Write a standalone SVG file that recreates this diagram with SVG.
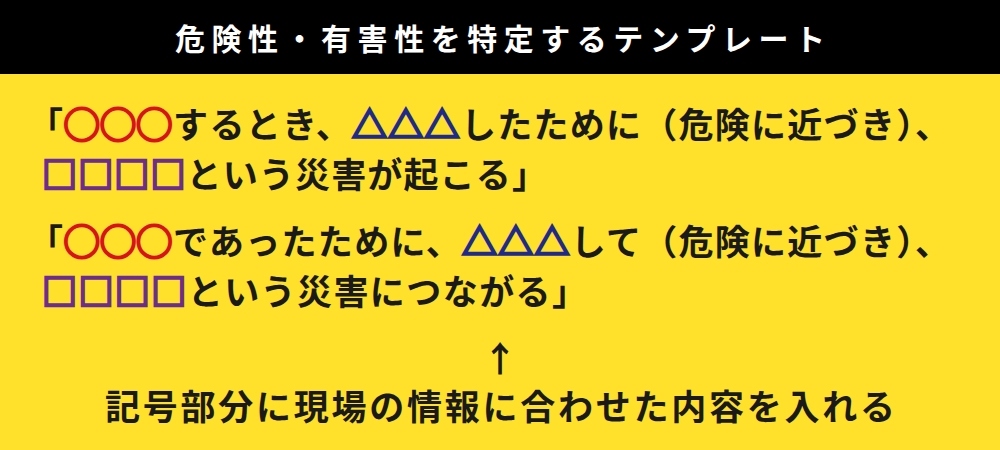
<svg xmlns="http://www.w3.org/2000/svg" width="1000" height="450" viewBox="0 0 1000 450">
<style>
text{font-family:"Noto Sans CJK JP","Noto Sans",sans-serif;font-weight:bold;fill:#1a1a1a}
.h{fill:#fff;font-size:30px}
.m{font-size:35px}
.r{fill:#d7141e;stroke:#d7141e;stroke-width:2.5}.b{fill:#1e2a8c;stroke:#1e2a8c;stroke-width:2.5}.p{fill:#6b2d8e;stroke:#6b2d8e;stroke-width:2.5}
</style>
<rect width="1000" height="450" fill="#ffe02a"/>
<rect width="1000" height="74" fill="#000"/>
<text class="h" x="500" y="50" text-anchor="middle" textLength="650" lengthAdjust="spacing">危険性・有害性を特定するテンプレート</text>
<text class="m" x="28" y="138" textLength="922" lengthAdjust="spacing">「<tspan class="r">◯◯◯</tspan>するとき、<tspan class="b">△△△</tspan>したために（危険に近づき）、</text>
<text class="m" x="42" y="188" textLength="505" lengthAdjust="spacing"><tspan class="p">□□□□</tspan>という災害が起こる」</text>
<text class="m" x="28" y="255" textLength="922" lengthAdjust="spacing">「<tspan class="r">◯◯◯</tspan>であったために、<tspan class="b">△△△</tspan>して（危険に近づき）、</text>
<text class="m" x="42" y="305" textLength="545" lengthAdjust="spacing"><tspan class="p">□□□□</tspan>という災害につながる」</text>
<text class="m" x="500" y="372" text-anchor="middle">↑</text>
<text class="m" x="500" y="420" text-anchor="middle" textLength="790" lengthAdjust="spacing">記号部分に現場の情報に合わせた内容を入れる</text>
</svg>
